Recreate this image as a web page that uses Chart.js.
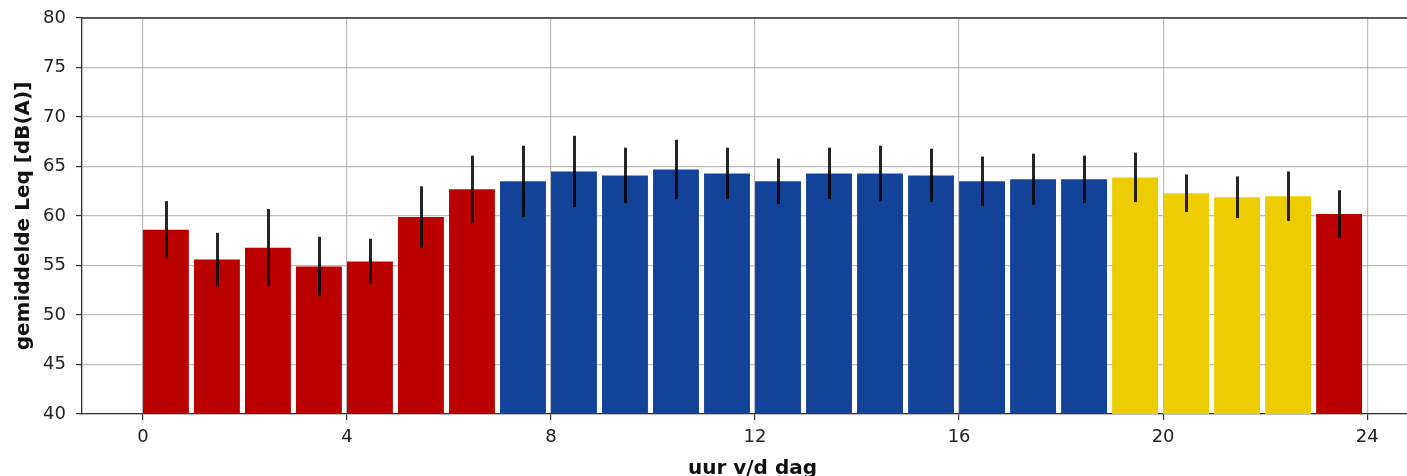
<!DOCTYPE html>
<html>
<head>
<meta charset="utf-8">
<script src="https://cdn.jsdelivr.net/npm/chart.js@4/dist/chart.umd.min.js"></script>
<style>
  html, body { margin: 0; padding: 0; overflow: hidden; background: #fff; }
  #wrap { position: absolute; left: 0; top: 0; width: 1440px; height: 500px; }
</style>
</head>
<body>
<div id="wrap"><canvas id="c"></canvas></div>
<script>
// Hour of day (bar starts at the hour)
const hours = [0, 1, 2, 3, 4, 5, 6, 7, 8, 9, 10, 11, 12, 13, 14, 15, 16, 17, 18, 19, 20, 21, 22, 23];
// Mean Leq per hour [dB(A)]
const leqMean = [58.6, 55.6, 56.8, 54.9, 55.4, 59.9, 62.7, 63.5, 64.5, 64.1, 64.7, 64.3,
                 63.5, 64.3, 64.3, 64.1, 63.5, 63.7, 63.7, 63.9, 62.3, 61.9, 62.0, 60.2];
// Spread (± one standard deviation) per hour
const leqErr = [2.9, 2.7, 3.9, 3.0, 2.3, 3.1, 3.4, 3.6, 3.6, 2.8, 3.0, 2.6,
                2.3, 2.6, 2.8, 2.7, 2.5, 2.6, 2.4, 2.5, 1.9, 2.1, 2.5, 2.4];
// Day period per hour: N = night, D = day, E = evening
const period = ['N','N','N','N','N','N','N','D','D','D','D','D',
                'D','D','D','D','D','D','D','E','E','E','E','N'];
const periodColor = { N: '#bb0000', D: '#134399', E: '#eecd00' };
const xTicks = [0, 4, 8, 12, 16, 20, 24];
const yTicks = [40, 45, 50, 55, 60, 65, 70, 75, 80];

const barWidth = 0.9;
const FONT = "'DejaVu Sans', sans-serif";
const GRID = 'rgba(176,176,176,0.85)';

// Error bars and the top frame line, drawn last
const overlay = {
  id: 'overlay',
  afterDraw(chart) {
    const { ctx, chartArea, scales: { x, y } } = chart;
    ctx.save();
    ctx.strokeStyle = 'rgba(0,0,0,0.85)';
    ctx.lineWidth = 3;
    ctx.lineCap = 'butt';
    hours.forEach((h, i) => {
      const px = Math.round(x.getPixelForValue(h + barWidth / 2)) + 0.5;
      ctx.beginPath();
      ctx.moveTo(px, y.getPixelForValue(leqMean[i] + leqErr[i]));
      ctx.lineTo(px, y.getPixelForValue(leqMean[i] - leqErr[i]));
      ctx.stroke();
    });
    ctx.strokeStyle = '#333';
    ctx.lineWidth = 1.3;
    ctx.beginPath();
    ctx.moveTo(chartArea.left, chartArea.top);
    ctx.lineTo(chartArea.right, chartArea.top);
    ctx.stroke();
    ctx.restore();
  }
};

new Chart(document.getElementById('c'), {
  type: 'bar',
  data: {
    datasets: [{
      data: hours.map((h, i) => ({ x: h + barWidth / 2, y: leqMean[i] })),
      backgroundColor: period.map(p => periodColor[p]),
      borderWidth: 0,
      barPercentage: barWidth,
      categoryPercentage: 1.0
    }]
  },
  options: {
    responsive: true,
    maintainAspectRatio: false,
    animation: false,
    layout: { padding: { left: 0, right: 17, top: 18, bottom: 0 } },
    plugins: { legend: { display: false }, tooltip: { enabled: false } },
    scales: {
      x: {
        type: 'linear',
        min: -1.195,
        max: 25.095,
        offset: false,
        z: 1,
        afterBuildTicks: s => { s.ticks = xTicks.map(v => ({ value: v })); },
        afterFit: s => { s.height = 86; s.paddingLeft = 0; s.paddingRight = 0; },
        grid: { offset: false, color: GRID, lineWidth: 1.2, tickColor: '#333', tickLength: 6 },
        border: { color: '#333', width: 1.3 },
        ticks: { color: '#222', font: { family: FONT, size: 18 }, padding: 7, maxRotation: 0 },
        title: { display: true, text: 'uur v/d dag', color: '#111',
                 font: { family: FONT, size: 20, weight: 'bold' }, padding: { top: 0, bottom: 19 } }
      },
      y: {
        min: 40,
        max: 80,
        z: 1,
        afterBuildTicks: s => { s.ticks = yTicks.map(v => ({ value: v })); },
        afterFit: s => { s.width = 82; s.paddingTop = 0; s.paddingBottom = 0; },
        grid: { color: GRID, lineWidth: 1.2, tickColor: '#333', tickLength: 6 },
        border: { color: '#333', width: 1.3 },
        ticks: { color: '#222', font: { family: FONT, size: 18 }, padding: 10 },
        title: { display: true, text: 'gemiddelde Leq [dB(A)]', color: '#111',
                 font: { family: FONT, size: 20, weight: 'bold' }, padding: { top: 12, bottom: 0 } }
      }
    }
  },
  plugins: [overlay]
});
</script>
</body>
</html>
